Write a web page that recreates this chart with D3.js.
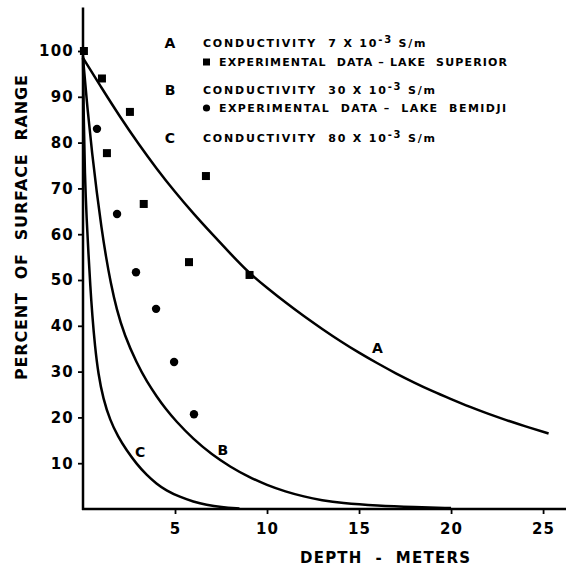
<!DOCTYPE html>
<html>
<head>
<meta charset="utf-8">
<script src="https://cdn.jsdelivr.net/npm/d3@7"></script>
<style>
  body { margin: 0; background: #fff; }
  svg { display: block; }
  text { font-family: "DejaVu Sans", sans-serif; font-weight: bold; fill: #000; }
</style>
</head>
<body>
<svg id="chart" width="567" height="567"></svg>
<script>
// Curves: [depth m, percent of surface range]
const curveA = [[0, 98.5], [1, 92], [2, 85.7], [3, 79.8], [4, 74.3], [5, 69.2], [6, 64.5], [7, 60.1], [8, 55.8],
  [9, 51.6], [10, 48.3], [11, 45.1], [12, 42.1], [13, 39.3], [14, 36.6], [15, 34.1], [16, 31.8], [17, 29.6],
  [18, 27.6], [19, 25.7], [20, 24], [21, 22.3], [22, 20.8], [23, 19.4], [24, 18.1], [25.3, 16.5]];
const curveB = [[0, 98.5], [0.25, 87], [0.5, 77.5], [0.75, 69], [1, 61.5], [1.25, 55], [1.5, 49.5], [1.83, 43.5],
  [2.25, 38], [2.92, 31.8], [3.5, 27.6], [4, 24.6], [4.5, 21.8], [5, 19.4], [6, 15.2], [7, 11.9], [8, 9.2],
  [9, 7], [10, 5.2], [11, 3.8], [12, 2.7], [13, 1.9], [14, 1.3], [16, 0.7], [18, 0.4], [20, 0.2]];
const curveC = [[0, 99], [0.04, 85], [0.1, 73], [0.2, 63], [0.3, 55.5], [0.4, 48.5], [0.5, 42.5], [0.65, 35.5],
  [0.83, 29.5], [1.1, 24], [1.47, 19.4], [1.9, 15.8], [2.37, 12.8], [2.9, 9.9], [3.46, 7.4], [4, 5.5],
  [4.5, 4.1], [5.27, 2.6], [6, 1.6], [6.7, 0.9], [7.5, 0.4], [8.5, 0.1]];

// Experimental data
const superiorData = [[0.05, 100], [1.03, 94], [2.55, 86.7], [1.3, 77.7], [3.3, 66.6], [5.76, 53.9], [6.68, 72.7], [9.05, 51.1]];
const bemidjiData = [[0.76, 83], [1.85, 64.4], [2.88, 51.7], [3.97, 43.7], [4.95, 32.1], [6.03, 20.7]];

const xTicks = [5, 10, 15, 20, 25];
const yTicks = [10, 20, 30, 40, 50, 60, 70, 80, 90, 100];

const legendRows = [
  { key: "A", text: "CONDUCTIVITY  7 X 10", exp: "-3", unit: " S/m" },
  { key: "B", text: "CONDUCTIVITY  30 X 10", exp: "-3", unit: " S/m" },
  { key: "C", text: "CONDUCTIVITY  80 X 10", exp: "-3", unit: " S/m" }
];

const svg = d3.select("#chart");
const x = d3.scaleLinear().domain([0, 26.3]).range([83, 567]);
const y = d3.scaleLinear().domain([0, 100]).range([509, 51]);

// axes lines
svg.append("line").attr("x1", x(0)).attr("x2", x(0)).attr("y1", y(0) + 1).attr("y2", y(109.5))
  .attr("stroke", "#000").attr("stroke-width", 2.5);
svg.append("line").attr("x1", x(0) - 1).attr("x2", 566).attr("y1", y(0)).attr("y2", y(0))
  .attr("stroke", "#000").attr("stroke-width", 2.5);

const yAxis = svg.append("g").attr("transform", `translate(${x(0)},0)`)
  .call(d3.axisLeft(y).tickValues(yTicks).tickSize(5).tickPadding(4));
const xAxis = svg.append("g").attr("transform", `translate(0,${y(0)})`)
  .call(d3.axisBottom(x).tickValues(xTicks).tickSize(5).tickPadding(6));
[xAxis, yAxis].forEach((g) => {
  g.select(".domain").remove();
  g.selectAll(".tick line").attr("stroke-width", 1.8);
  g.selectAll(".tick text").attr("font-size", 15).attr("letter-spacing", 1.2)
    .attr("font-family", "DejaVu Sans, sans-serif").attr("font-weight", "bold");
});
xAxis.selectAll(".tick text").attr("dy", "0.9em");

// curves
const line = d3.line().x((d) => x(d[0])).y((d) => y(d[1])).curve(d3.curveBasis);
[curveA, curveB, curveC].forEach((c) => {
  svg.append("path").datum(c).attr("d", line).attr("fill", "none")
    .attr("stroke", "#000").attr("stroke-width", 2.5);
});

// curve labels
const curveLabels = [["A", 16, 35.2], ["B", 7.6, 12.9], ["C", 3.1, 12.5]];
svg.selectAll(".clabel").data(curveLabels).enter().append("text")
  .attr("x", (d) => x(d[1])).attr("y", (d) => y(d[2]))
  .attr("font-size", 14).attr("font-weight", "normal").attr("text-anchor", "middle").attr("dy", "0.35em")
  .text((d) => d[0]);

// experimental points
svg.selectAll(".sq").data(superiorData).enter().append("rect")
  .attr("x", (d) => x(d[0]) - 4).attr("y", (d) => y(d[1]) - 4)
  .attr("width", 8).attr("height", 8).attr("fill", "#000");
svg.selectAll(".dot").data(bemidjiData).enter().append("circle")
  .attr("cx", (d) => x(d[0])).attr("cy", (d) => y(d[1])).attr("r", 4.2).attr("fill", "#000");

// legend
const legendY = [43, 90, 138];
legendRows.forEach((r, i) => {
  svg.append("text").attr("x", 170).attr("y", legendY[i]).attr("dy", "0.35em")
    .attr("font-size", 14).attr("text-anchor", "middle").text(r.key);
  const t = svg.append("text").attr("x", 203).attr("y", legendY[i]).attr("dy", "0.35em")
    .attr("font-size", 11).attr("letter-spacing", 1.8).attr("xml:space", "preserve");
  t.append("tspan").text(r.text);
  t.append("tspan").attr("baseline-shift", "45%").attr("font-size", 10).text(r.exp);
  t.append("tspan").text(r.unit);
});
const expRows = [
  { y: 62, sym: "square", text: "EXPERIMENTAL  DATA – LAKE  SUPERIOR", w: 288 },
  { y: 108, sym: "circle", text: "EXPERIMENTAL  DATA –  LAKE  BEMIDJI", w: 287 }
];
expRows.forEach((r) => {
  if (r.sym === "square") {
    svg.append("rect").attr("x", 203).attr("y", r.y - 3.5).attr("width", 7).attr("height", 7).attr("fill", "#000");
  } else {
    svg.append("circle").attr("cx", 206.5).attr("cy", r.y).attr("r", 3.6).attr("fill", "#000");
  }
  svg.append("text").attr("x", 219).attr("y", r.y).attr("dy", "0.35em")
    .attr("font-size", 11).attr("xml:space", "preserve")
    .attr("textLength", r.w).attr("lengthAdjust", "spacing").text(r.text);
});

// axis titles
svg.append("text").attr("x", 300).attr("y", 558).attr("dy", "0.35em")
  .attr("font-size", 15).attr("xml:space", "preserve")
  .attr("textLength", 170).attr("lengthAdjust", "spacing").text("DEPTH  -  METERS");
svg.append("text").attr("transform", "translate(21,380) rotate(-90)").attr("dy", "0.35em")
  .attr("font-size", 16).attr("xml:space", "preserve")
  .attr("textLength", 305).attr("lengthAdjust", "spacing").text("PERCENT  OF  SURFACE  RANGE");
</script>
</body>
</html>
